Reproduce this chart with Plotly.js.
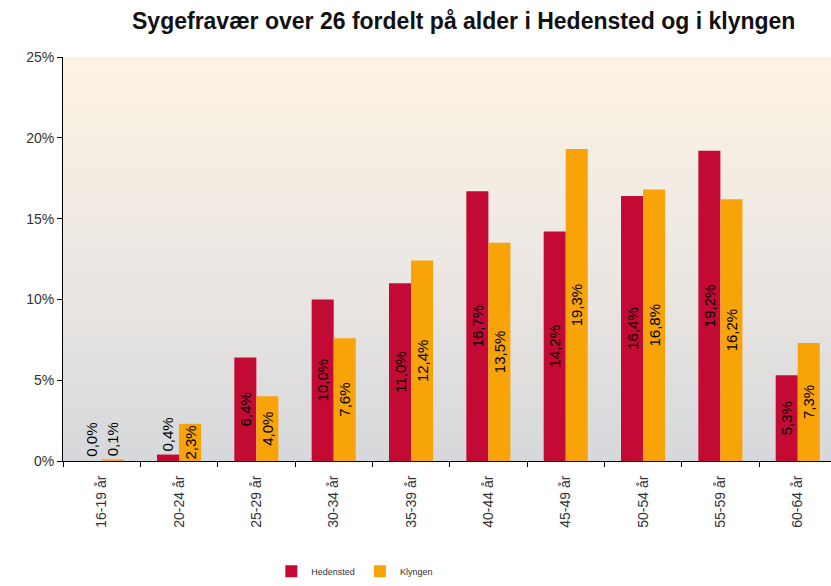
<!DOCTYPE html>
<html>
<head>
<meta charset="utf-8">
<script src="https://cdn.plot.ly/plotly-3.0.1.min.js"></script>
<style>
html,body{margin:0;padding:0;background:#fff;}
#chart{width:831px;height:586px;}
</style>
</head>
<body>
<div id="chart"></div>
<script>
const categories = ["16-19 år","20-24 år","25-29 år","30-34 år","35-39 år","40-44 år","45-49 år","50-54 år","55-59 år","60-64 år"];
const hedensted = [0.0, 0.4, 6.4, 10.0, 11.0, 16.7, 14.2, 16.4, 19.2, 5.3];
const klyngen = [0.1, 2.3, 4.0, 7.6, 12.4, 13.5, 19.3, 16.8, 16.2, 7.3];
const yTicks = [0, 5, 10, 15, 20, 25];

const FONT = 'Liberation Sans, Arial, sans-serif';

const gradSvg = '<svg xmlns="http://www.w3.org/2000/svg" width="10" height="100" preserveAspectRatio="none">' +
  '<defs><linearGradient id="g" x1="0" y1="0" x2="0" y2="1">' +
  '<stop offset="0" stop-color="#FDF3E4"/>' +
  '<stop offset="0.5" stop-color="#EDE8E3"/>' +
  '<stop offset="1" stop-color="#D6D8DB"/>' +
  '</linearGradient></defs><rect width="10" height="100" fill="url(#g)"/></svg>';
const gradUri = 'data:image/svg+xml;base64,' + btoa(gradSvg);

const labelFont = {family: FONT, size: 15, color: '#000'};
const common = {
  type: 'bar',
  x: categories,
  texttemplate: '%{y:.1f}%',
  textposition: 'auto',
  textangle: -90,
  insidetextanchor: 'middle',
  constraintext: 'none',
  cliponaxis: false,
  textfont: labelFont,
  insidetextfont: labelFont,
  outsidetextfont: labelFont,
  hoverinfo: 'skip'
};

const data = [
  Object.assign({}, common, {name: 'Hedensted', y: hedensted, marker: {color: '#C20A35'}}),
  Object.assign({}, common, {name: 'Klyngen', y: klyngen, marker: {color: '#F8A307'}})
];

// Zero-height bars get no bar text in Plotly, so label them with annotations
const fmt = v => v.toFixed(1).replace('.', ',') + '%';
const annotations = [];
[[hedensted, -11], [klyngen, 11]].forEach(([series, shift]) => {
  series.forEach((v, i) => {
    if (v === 0) {
      annotations.push({
        x: categories[i], y: v, xref: 'x', yref: 'y',
        text: fmt(v), showarrow: false, textangle: -90,
        xshift: shift, yanchor: 'bottom', yshift: 2,
        font: labelFont
      });
    }
  });
});

const layout = {
  width: 831,
  height: 586,
  margin: {l: 63, r: 0, t: 57, b: 122},
  paper_bgcolor: '#ffffff',
  plot_bgcolor: 'rgba(0,0,0,0)',
  separators: ', ',
  barmode: 'group',
  bargap: 0.43,
  bargroupgap: 0,
  font: {family: FONT, size: 14, color: '#333'},
  title: {
    text: '<b>Sygefravær over 26 fordelt på alder i Hedensted og i klyngen</b>',
    font: {family: FONT, size: 23, color: '#111'},
    x: 0.558, xref: 'container', xanchor: 'center',
    y: 0.978, yref: 'container', yanchor: 'top'
  },
  images: [{
    source: gradUri,
    xref: 'paper', yref: 'paper',
    x: 0, y: 1, sizex: 1, sizey: 1,
    xanchor: 'left', yanchor: 'top',
    sizing: 'stretch', layer: 'below'
  }],
  annotations: annotations,
  xaxis: {
    type: 'category',
    range: [-0.5, 9.43],
    showline: true, linecolor: '#000', linewidth: 1,
    ticks: 'outside', tickson: 'boundaries', ticklen: 5, tickcolor: '#000',
    tickangle: -90,
    ticklabelstandoff: 8,
    tickfont: {family: FONT, size: 14, color: '#333'},
    showgrid: false, zeroline: false, fixedrange: true
  },
  yaxis: {
    range: [0, 25],
    tickvals: yTicks,
    ticktext: yTicks.map(v => v + '%'),
    showline: true, linecolor: '#000', linewidth: 1,
    ticks: 'outside', ticklen: 5, tickcolor: '#000',
    tickfont: {family: FONT, size: 14, color: '#333'},
    showgrid: false, zeroline: false, fixedrange: true
  },
  showlegend: true,
  legend: {
    orientation: 'h',
    x: 0.38, xanchor: 'center',
    y: -0.273, yanchor: 'middle',
    font: {family: FONT, size: 9, color: '#333'},
    bgcolor: 'rgba(0,0,0,0)',
    itemwidth: 30
  }
};

Plotly.newPlot('chart', data, layout, {displayModeBar: false, staticPlot: true});
</script>
</body>
</html>
